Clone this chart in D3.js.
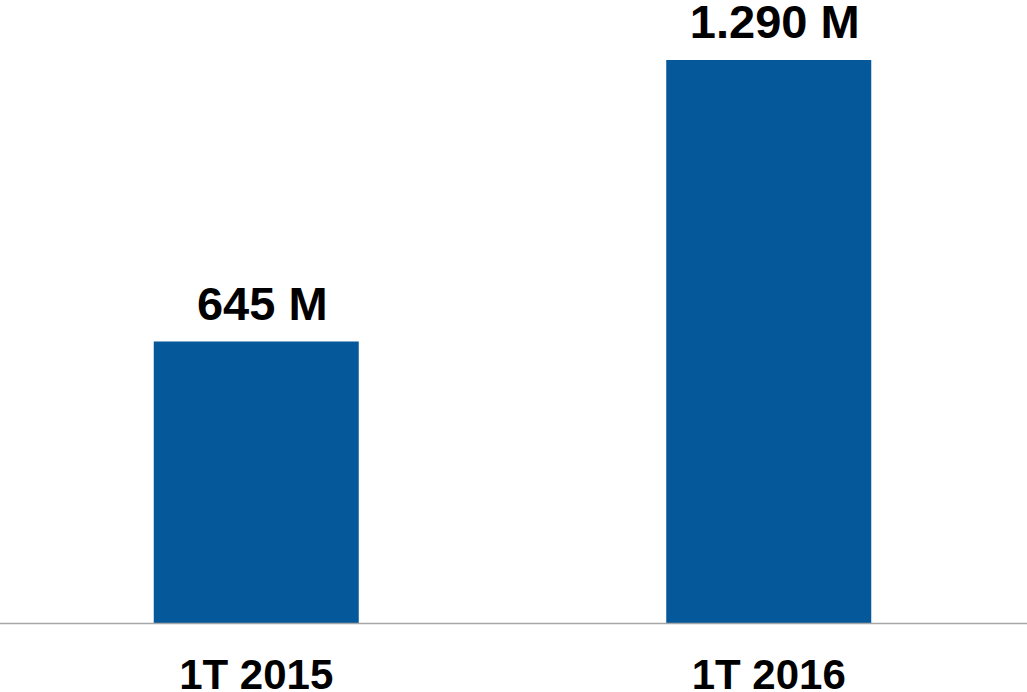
<!DOCTYPE html>
<html>
<head>
<meta charset="utf-8">
<script src="https://cdn.jsdelivr.net/npm/d3@7"></script>
<style>
  body { margin: 0; background: #fff; }
  svg { display: block; font-family: "Liberation Sans", Arial, sans-serif; }
</style>
</head>
<body>
<div id="chart"></div>
<script>
// data
const categories = ["1T 2015", "1T 2016"]
const values = [645, 1290]
const valueLabels = ["645 M", "1.290 M"]

const width = 1027
const height = 692
const baseline = 623

const data = categories.map((c, i) => ({ category: c, value: values[i], label: valueLabels[i] }))

const xScale = d3.scaleBand()
    .domain(categories)
    .range([0, 1025])
    .paddingInner(0.6)
    .paddingOuter(0.3)

const yScale = d3.scaleLinear()
    .domain([0, d3.max(values)])
    .range([baseline, 60])

const svg = d3.select("#chart")
    .append("svg")
    .attr("width", width)
    .attr("height", height)

// bars
svg.selectAll("rect.bar")
    .data(data)
    .join("rect")
    .attr("class", "bar")
    .attr("x", d => xScale(d.category))
    .attr("y", d => yScale(d.value))
    .attr("width", xScale.bandwidth())
    .attr("height", d => baseline - yScale(d.value))
    .style("fill", "#05599b")

// value labels (sit a little right of the bar centre, like the original)
svg.selectAll("text.value")
    .data(data)
    .join("text")
    .attr("class", "value")
    .attr("x", d => xScale(d.category) + xScale.bandwidth() / 2 + 6)
    .attr("y", d => yScale(d.value) - 22)
    .attr("text-anchor", "middle")
    .style("font-size", "47px")
    .style("font-weight", "bold")
    .style("fill", "#000")
    .text(d => d.label)

// x axis
const xAxisGroup = svg.append("g")
    .attr("transform", `translate(0, ${baseline})`)
    .call(d3.axisBottom(xScale).tickSize(0).tickPadding(36))

xAxisGroup.select(".domain")
    .attr("d", `M0,0.5H${width}`)
    .style("stroke", "#a6a6a6")
    .style("stroke-width", 1.5)

xAxisGroup.selectAll(".tick text")
    .style("font-family", "'Liberation Sans', Arial, sans-serif")
    .style("font-size", "42px")
    .style("font-weight", "bold")
    .style("fill", "#000")
    .attr("dy", "0.71em")
</script>
</body>
</html>
